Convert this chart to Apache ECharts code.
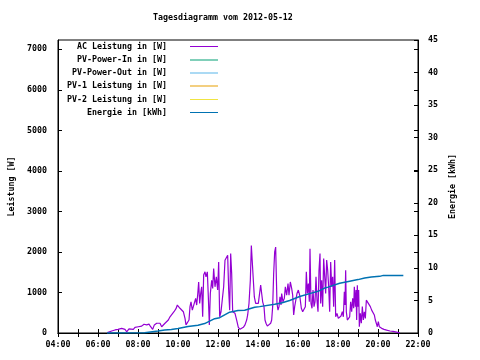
<!DOCTYPE html>
<html><head><meta charset="utf-8">
<script src="https://cdn.jsdelivr.net/npm/echarts@6/dist/echarts.min.js"></script>
<style>html,body{margin:0;padding:0;background:#fff}#c{width:480px;height:360px}</style>
</head><body><div id="c"></div>
<script>
const titleText = "Tagesdiagramm vom 2012-05-12";
const seriesNames = ["AC Leistung in [W]", "PV-Power-In in [W]", "PV-Power-Out in [W]", "PV-1 Leistung in [W]", "PV-2 Leistung in [W]", "Energie in [kWh]"];
const seriesColors = ["#9400d3", "#009e73", "#56b4e9", "#e69f00", "#f0e442", "#0072b2"];

const acTimes = ["06:28","06:41","06:51","07:00","07:11","07:16","07:21","07:26","07:33","07:39","07:46","07:51","07:56","08:01","08:06","08:11","08:18","08:26","08:33","08:38","08:44","08:49","08:56","09:01","09:06","09:11","09:16","09:21","09:26","09:31","09:36","09:41","09:48","09:54","09:58","10:03","10:06","10:11","10:16","10:21","10:24","10:28","10:33","10:36","10:39","10:43","10:46","10:49","10:53","10:56","10:59","11:02","11:05","11:08","11:11","11:14","11:17","11:21","11:24","11:28","11:31","11:34","11:37","11:41","11:44","11:47","11:51","11:55","11:59","12:02","12:05","12:09","12:13","12:17","12:21","12:25","12:29","12:32","12:35","12:38","12:41","12:44","12:47","12:51","12:56","13:01","13:06","13:11","13:16","13:21","13:26","13:29","13:33","13:37","13:40","13:43","13:46","13:49","13:53","13:57","14:01","14:05","14:08","14:11","14:14","14:18","14:21","14:24","14:28","14:33","14:38","14:41","14:44","14:47","14:50","14:53","14:55","14:57","15:00","15:03","15:06","15:09","15:11","15:15","15:19","15:22","15:26","15:30","15:33","15:37","15:41","15:44","15:47","15:50","15:53","15:57","16:01","16:05","16:10","16:14","16:19","16:22","16:25","16:28","16:31","16:34","16:36","16:39","16:42","16:45","16:48","16:51","16:54","16:57","17:00","17:03","17:06","17:08","17:11","17:14","17:17","17:20","17:23","17:26","17:29","17:32","17:35","17:38","17:41","17:44","17:47","17:50","17:53","17:57","18:01","18:05","18:09","18:13","18:16","18:19","18:21","18:23","18:25","18:28","18:31","18:35","18:38","18:41","18:44","18:47","18:49","18:52","18:54","18:56","18:58","19:00","19:02","19:04","19:07","19:10","19:13","19:16","19:19","19:22","19:25","19:28","19:31","19:34","19:37","19:41","19:45","19:49","19:52","19:55","19:58","20:01","20:04","20:11","20:18","20:26","20:36","20:45","20:56","21:06"];
const acValues = [10,50,75,90,115,140,90,30,100,140,90,140,100,155,115,170,215,200,220,155,90,200,240,215,240,155,115,240,200,320,400,445,525,600,690,650,610,650,525,360,200,155,320,650,770,565,610,525,855,690,935,1260,730,975,1140,400,1430,1510,1385,1510,890,200,975,1300,1100,1590,1140,1385,1060,1750,400,525,565,1140,1795,1750,1920,1060,565,1960,1470,525,565,485,320,140,90,115,140,200,320,445,730,1300,2160,2120,1300,890,730,690,730,770,1180,975,770,650,320,240,170,200,240,320,650,1470,2000,2120,1385,730,565,650,890,690,975,770,855,1140,935,1220,935,1260,1100,935,445,650,690,975,1060,935,610,525,500,650,1510,975,1220,770,2080,730,610,1060,650,770,1385,810,525,1550,1960,730,1300,650,1840,1800,975,1800,1550,1140,525,1750,1140,1385,650,1800,400,485,360,335,420,525,400,1020,690,1550,525,320,280,400,770,525,855,610,1140,650,1060,320,1180,650,1060,155,485,240,650,320,525,360,810,770,730,690,650,565,525,445,320,360,155,280,155,115,90,70,50,40,20,0];

const energyTimes = ["06:27","08:20","08:21","09:00","09:20","09:40","10:00","10:30","11:00","11:20","11:50","12:05","12:35","13:00","13:20","13:50","14:05","14:50","15:10","15:35","16:05","16:35","17:00","17:20","17:30","18:05","18:35","19:00","19:20","19:40","20:05","20:16","21:16"];
const energyValues = [0,0.05,0.2,0.3,0.45,0.55,0.7,1.0,1.2,1.45,2.2,2.35,3.2,3.45,3.5,3.95,4.05,4.4,4.6,5.0,5.6,6.05,6.4,6.9,7.05,7.65,7.95,8.2,8.45,8.6,8.7,8.85,8.85];

const leftTicks = {min: 0, max: 7230, interval: 1000};
const rightTicks = {min: 0, max: 45, interval: 5};
const xTicks = {min: 4, max: 22, interval: 1};

function toH(t){const p=t.split(':');return +p[0]+ +p[1]/60;}
function pairs(ts, vs){return ts.map((t,i)=>[toH(t), vs[i]]);}

const FONT = '"DejaVu Sans Mono", monospace';
const FS = 8.3;
const FW = 'bold';
const chart = echarts.init(document.getElementById('c'), null, {renderer:'canvas'});

const legendTops = [41.5, 55, 68, 81, 94.5, 107.5];
const legends = seriesNames.map((n,i)=>({
  data:[n], right: 262, top: legendTops[i], padding: 0, align: 'right',
  icon: 'rect', itemWidth: 28, itemHeight: 1, selectedMode: false,
  textStyle: {fontFamily: FONT, fontSize: FS, fontWeight: FW, color: '#000', lineHeight: 10, padding: [0, 18, 0, 0]}
}));

const tickStyle = {show: true, inside: true, length: 4, lineStyle: {color: '#000', width: 1}};
const lbl = {fontFamily: FONT, fontSize: FS, fontWeight: FW, color: '#000'};

const series = seriesNames.map((n,i)=>{
  let data = [];
  if (i === 0) data = pairs(acTimes, acValues);
  if (i === 5) data = pairs(energyTimes, energyValues);
  return {name: n, type: 'line', data, yAxisIndex: i === 5 ? 1 : 0, showSymbol: false, symbol: 'none',
    lineStyle: {width: i === 5 ? 1.5 : 1.2, color: seriesColors[i]}, itemStyle: {color: seriesColors[i]}, animation: false};
});

chart.setOption({
  animation: false,
  title: {text: titleText, left: 153, top: 13, padding: 0, textStyle: {fontFamily: FONT, fontSize: FS, fontWeight: FW, color: '#000', lineHeight: 10}},
  legend: legends,
  grid: {left: 58, right: 62, top: 40, bottom: 27, show: true, borderColor: '#000', borderWidth: 1, backgroundColor: 'transparent'},
  xAxis: [
    {type: 'value', position: 'bottom', min: xTicks.min, max: xTicks.max, interval: xTicks.interval,
     axisLine: {show: true, lineStyle: {color: '#000'}}, axisTick: tickStyle, splitLine: {show: false},
     axisLabel: Object.assign({margin: 8, formatter: v => (v % 2 === 0 ? String(v).padStart(2,'0') + ':00' : '')}, lbl)},
    {type: 'value', position: 'top', min: xTicks.min, max: xTicks.max, interval: xTicks.interval,
     axisLine: {show: true, lineStyle: {color: '#000'}}, axisTick: tickStyle, splitLine: {show: false}, axisLabel: {show: false}}
  ],
  yAxis: [
    {type: 'value', position: 'left', min: leftTicks.min, max: leftTicks.max, interval: leftTicks.interval,
     name: 'Leistung [W]', nameLocation: 'middle', nameRotate: 90, nameGap: 42, nameTextStyle: lbl,
     axisLine: {show: true, lineStyle: {color: '#000'}}, axisTick: tickStyle, splitLine: {show: false},
     axisLabel: Object.assign({margin: 11, showMaxLabel: false, formatter: v => (v % 1000 === 0 ? String(v) : '')}, lbl)},
    {type: 'value', position: 'right', min: rightTicks.min, max: rightTicks.max, interval: rightTicks.interval,
     name: 'Energie [kWh]', nameLocation: 'middle', nameRotate: 90, nameGap: 30, nameTextStyle: lbl,
     axisLine: {show: true, lineStyle: {color: '#000'}}, axisTick: tickStyle, splitLine: {show: false},
     axisLabel: Object.assign({margin: 10}, lbl)},
    {type: 'value', position: 'right', min: leftTicks.min, max: leftTicks.max, interval: leftTicks.interval,
     axisLine: {show: false}, axisTick: tickStyle, splitLine: {show: false}, axisLabel: {show: false}}
  ],
  series
});
</script></body></html>
